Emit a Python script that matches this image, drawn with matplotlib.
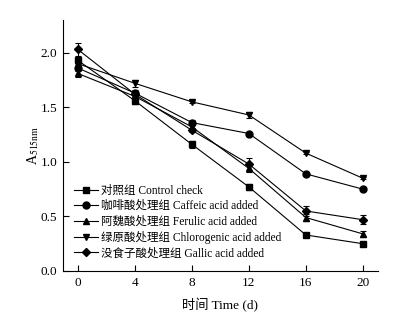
import matplotlib
matplotlib.use('Agg')
import matplotlib.pyplot as plt
from matplotlib.lines import Line2D

plt.rcParams['font.family'] = ['Liberation Serif', 'Noto Sans CJK SC']
plt.rcParams['mathtext.fontset'] = 'stix'

days = [0, 4, 8, 12, 16, 20]

control = [1.93, 1.56, 1.16, 0.77, 0.33, 0.25]
caffeic = [1.86, 1.63, 1.36, 1.26, 0.89, 0.75]
ferulic = [1.81, 1.60, 1.32, 0.94, 0.49, 0.34]
chlorogenic = [1.90, 1.72, 1.55, 1.43, 1.08, 0.85]
gallic = [2.03, 1.62, 1.29, 0.98, 0.55, 0.47]

control_err = [0.03, 0.03, 0.03, 0.03, 0.01, 0.02]
caffeic_err = [0.03, 0.03, 0.02, 0.01, 0.01, 0.01]
ferulic_err = [0.03, 0.03, 0.02, 0.03, 0.03, 0.03]
chlorogenic_err = [0.03, 0.03, 0.01, 0.03, 0.01, 0.01]
gallic_err = [0.06, 0.03, 0.02, 0.06, 0.05, 0.04]

labels = ['对照组 Control check', '咖啡酸处理组 Caffeic acid added',
          '阿魏酸处理组 Ferulic acid added', '绿原酸处理组 Chlorogenic acid added',
          '没食子酸处理组 Gallic acid added']
markers = ['s', 'o', '^', 'v', 'D']

fig = plt.figure(figsize=(4.17, 3.23), dpi=100)
ax = fig.add_axes([0.151, 0.161, 0.755, 0.777])

series = [control, caffeic, ferulic, chlorogenic, gallic]
errs = [control_err, caffeic_err, ferulic_err, chlorogenic_err, gallic_err]
handles = []
for vals, err, m, lab in zip(series, errs, markers, labels):
    ms = 4.2 if m == 'D' else 5
    ax.errorbar(days, vals, yerr=err, color='black', marker=m, markersize=ms,
                linewidth=0.8, elinewidth=0.8, capsize=2.5, capthick=0.8)
    handles.append(Line2D([], [], color='black', marker=m, markersize=ms,
                          linewidth=0.8, label=lab))

ax.set_xlim(-1.05, 21.05)
ax.set_ylim(0, 2.3)
ax.set_xticks(days)
ax.set_yticks([0.0, 0.5, 1.0, 1.5, 2.0])
ax.set_yticklabels(['0.0', '0.5', '1.0', '1.5', '2.0'])
ax.spines['top'].set_visible(False)
ax.spines['right'].set_visible(False)
ax.tick_params(direction='in', length=4, width=0.8, labelsize=9.5, pad=4)
ax.set_xlabel('时间 Time (d)', fontsize=9.5, labelpad=7)
ax.set_ylabel(r'A$_{515\mathrm{nm}}$', fontsize=10, labelpad=0)

ax.legend(handles=handles, loc='lower left', frameon=False, fontsize=8.3, handlelength=2,
          handletextpad=0.3, labelspacing=0.3, borderaxespad=0.6,
          bbox_to_anchor=(0.0, 0.0))

fig.savefig('out.png', dpi=100)
